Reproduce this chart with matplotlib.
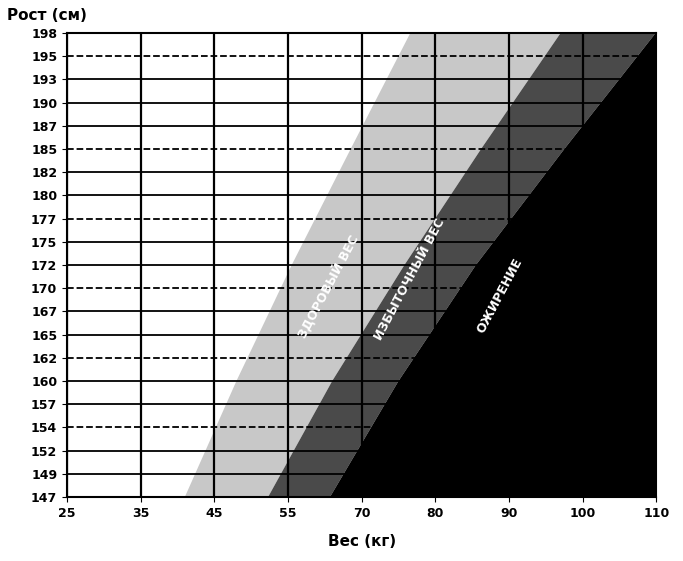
import matplotlib.pyplot as plt

x_labels = [25, 35, 45, 55, 70, 80, 90, 100, 110]
y_labels = [147, 149, 152, 154, 157, 160, 162, 165, 167, 170, 172, 175,
            177, 180, 182, 185, 187, 190, 193, 195, 198]
dashed = [195, 185, 177, 170, 162, 154]

# zone boundaries: x position (tick index) at row positions bottom, middle, top
rows = [0, 5, 10, 15, 20]
healthy_left = [1.60, 2.30, 3.05, 3.85, 4.66]
over_left = [2.73, 3.60, 4.58, 5.62, 6.70]
obese_left = [3.57, 4.50, 5.55, 6.75, 7.99]


def main():
    fig = plt.figure(figsize=(6.83, 5.61), dpi=100)
    ax = fig.add_axes([0.098, 0.114, 0.863, 0.827])
    nx = len(x_labels) - 1
    ny = len(y_labels) - 1

    def band(left, right, color):
        xs = list(left) + list(reversed(right))
        ys = list(rows) + list(reversed(rows))
        ax.fill(xs, ys, color=color, zorder=1, lw=0)

    right_edge = [nx] * len(rows)
    band(healthy_left, over_left, '#c8c8c8')
    band(over_left, obese_left, '#4a4a4a')
    band(obese_left, right_edge, '#000000')

    for i in range(len(x_labels)):
        ax.axvline(i, color='black', lw=1.6, zorder=2)
    for j, v in enumerate(y_labels):
        ls = '--' if v in dashed else '-'
        ax.axhline(j, color='black', lw=1.3, ls=ls, zorder=2)

    ax.set_xlim(0, nx)
    ax.set_ylim(0, ny)
    ax.set_xticks(range(len(x_labels)))
    ax.set_xticklabels(x_labels, fontsize=9, fontweight='bold')
    ax.set_yticks(range(len(y_labels)))
    ax.set_yticklabels(y_labels, fontsize=9, fontweight='bold')
    for s in ax.spines.values():
        s.set_linewidth(1.5)

    kw = dict(color='white', fontsize=9, fontweight='bold', rotation=62,
              ha='center', va='center', zorder=3)
    ax.text(3.55, 9.1, 'ЗДОРОВЫЙ ВЕС', **kw)
    ax.text(4.66, 9.4, 'ИЗБЫТОЧНЫЙ ВЕС', **kw)
    ax.text(5.88, 8.7, 'ОЖИРЕНИЕ', **kw)

    fig.text(0.01, 0.965, 'Рост (см)', fontsize=11, fontweight='bold')
    ax.set_xlabel('Вес (кг)', fontsize=11, fontweight='bold', labelpad=10)
    fig.savefig('out.png', dpi=100)


if __name__ == '__main__':
    main()
